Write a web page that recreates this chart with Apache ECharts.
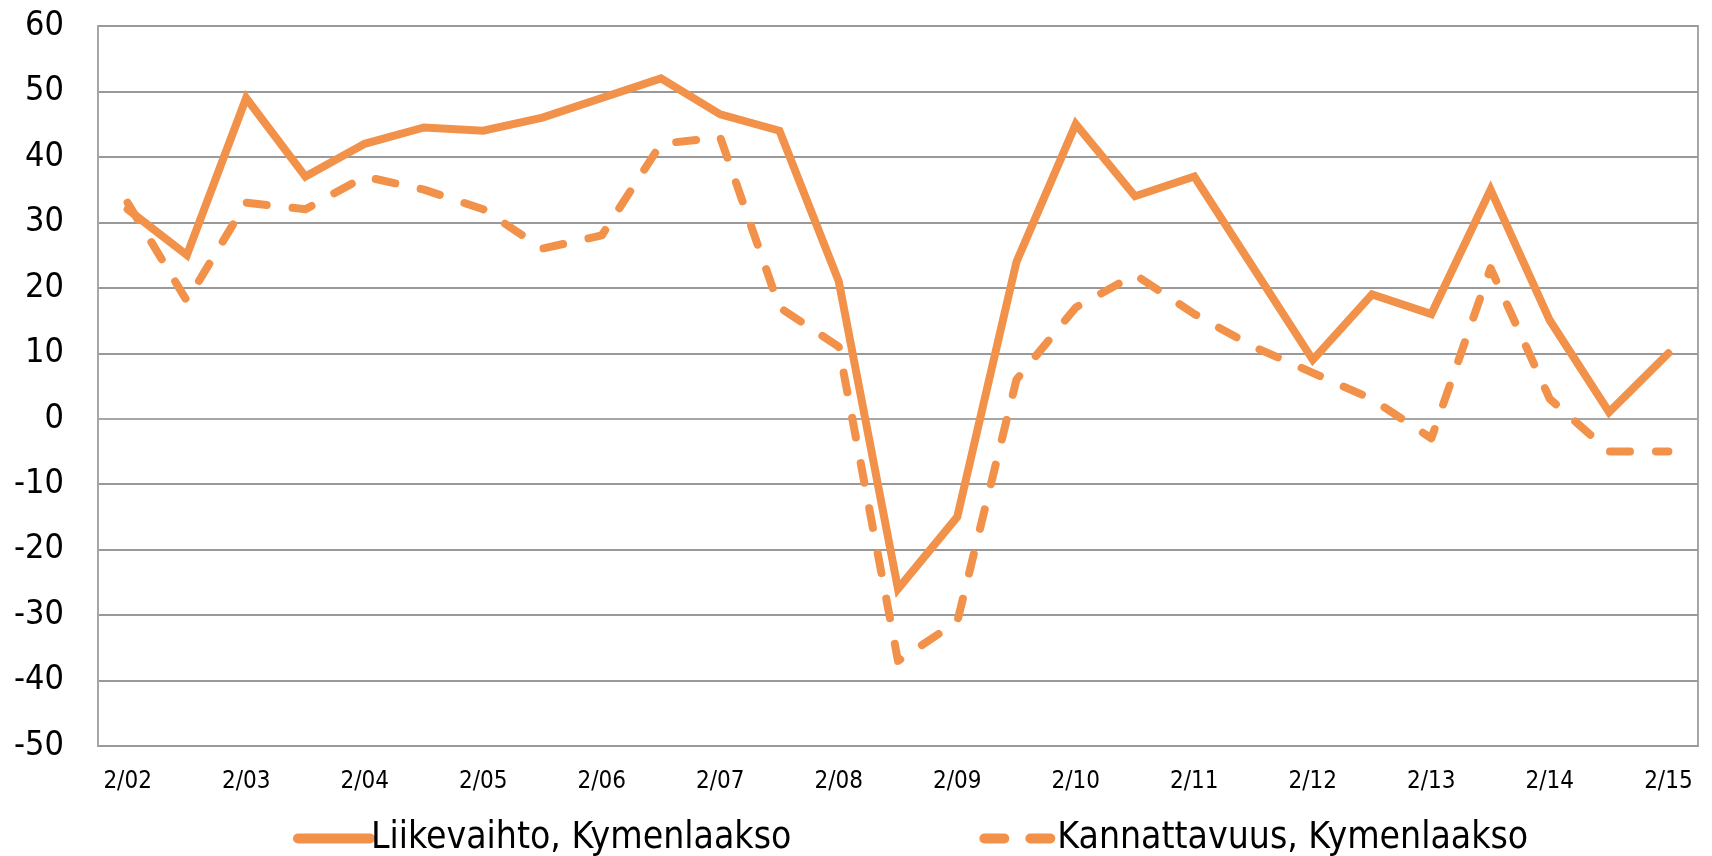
<!DOCTYPE html>
<html>
<head>
<meta charset="utf-8">
<script src="https://cdn.jsdelivr.net/npm/echarts@6/dist/echarts.min.js"></script>
<style>
  html, body { margin: 0; padding: 0; background: #fff; }
  #chart { width: 1712px; height: 856px; }
</style>
</head>
<body>
<div id="chart"></div>
<script>
// periods, half-year steps
var periods = ['2/02', '8/02', '2/03', '8/03', '2/04', '8/04', '2/05', '8/05', '2/06', '8/06',
  '2/07', '8/07', '2/08', '8/08', '2/09', '8/09', '2/10', '8/10', '2/11', '8/11',
  '2/12', '8/12', '2/13', '8/13', '2/14', '8/14', '2/15'];
var liikevaihto = [32, 25, 49, 37, 42, 44.5, 44, 46, 49, 52, 46.5, 44, 21, -26, -15,
  24, 45, 34, 37, 23, 9, 19, 16, 35, 15, 1, 10];
var kannattavuus = [33, 18, 33, 32, 37, 35, 32, 26, 28, 42, 43, 17, 11, -37, -31,
  6, 17, 22, 16, 11, 7, 3, -3, 23, 3, -5, -5];
var yTicks = [-50, -40, -30, -20, -10, 0, 10, 20, 30, 40, 50, 60];

var orange = '#F29149';
var font = '"DejaVu Sans Condensed", "Liberation Sans", sans-serif';

var chart = echarts.init(document.getElementById('chart'));
chart.setOption({
  animation: false,
  grid: {
    left: 98, right: 14, top: 26, bottom: 110,
    show: true, borderColor: '#a6a6a6', borderWidth: 2
  },
  legend: {
    left: 288, top: 815,
    itemGap: 188, itemWidth: 72, itemHeight: 14,
    itemStyle: { opacity: 0 },
    lineStyle: { width: 10, cap: 'round' },
    textStyle: { fontFamily: font, fontSize: 37, color: '#000', padding: [0, 0, 0, -4] },
    data: ['Liikevaihto, Kymenlaakso', 'Kannattavuus, Kymenlaakso']
  },
  xAxis: {
    type: 'category',
    data: periods,
    boundaryGap: true,
    axisLine: { lineStyle: { color: '#a6a6a6', width: 2 } },
    axisTick: { show: false },
    axisLabel: { interval: 1, fontFamily: font, fontSize: 24, color: '#000', margin: 24 }
  },
  yAxis: {
    type: 'value',
    min: yTicks[0], max: yTicks[yTicks.length - 1], interval: 10,
    axisLine: { show: true, lineStyle: { color: '#a6a6a6', width: 2 } },
    axisTick: { show: false },
    splitLine: { lineStyle: { color: '#999', width: 2 } },
    axisLabel: { fontFamily: font, fontSize: 34, color: '#000', margin: 34 }
  },
  series: [
    {
      name: 'Liikevaihto, Kymenlaakso',
      type: 'line',
      data: liikevaihto,
      symbol: 'none',
      itemStyle: { color: orange },
      lineStyle: { color: orange, width: 8, join: 'miter', cap: 'round' }
    },
    {
      name: 'Kannattavuus, Kymenlaakso',
      type: 'line',
      data: kannattavuus,
      symbol: 'none',
      itemStyle: { color: orange },
      lineStyle: { color: orange, width: 8, type: [20, 26], cap: 'round', join: 'round' }
    }
  ]
});
</script>
</body>
</html>
